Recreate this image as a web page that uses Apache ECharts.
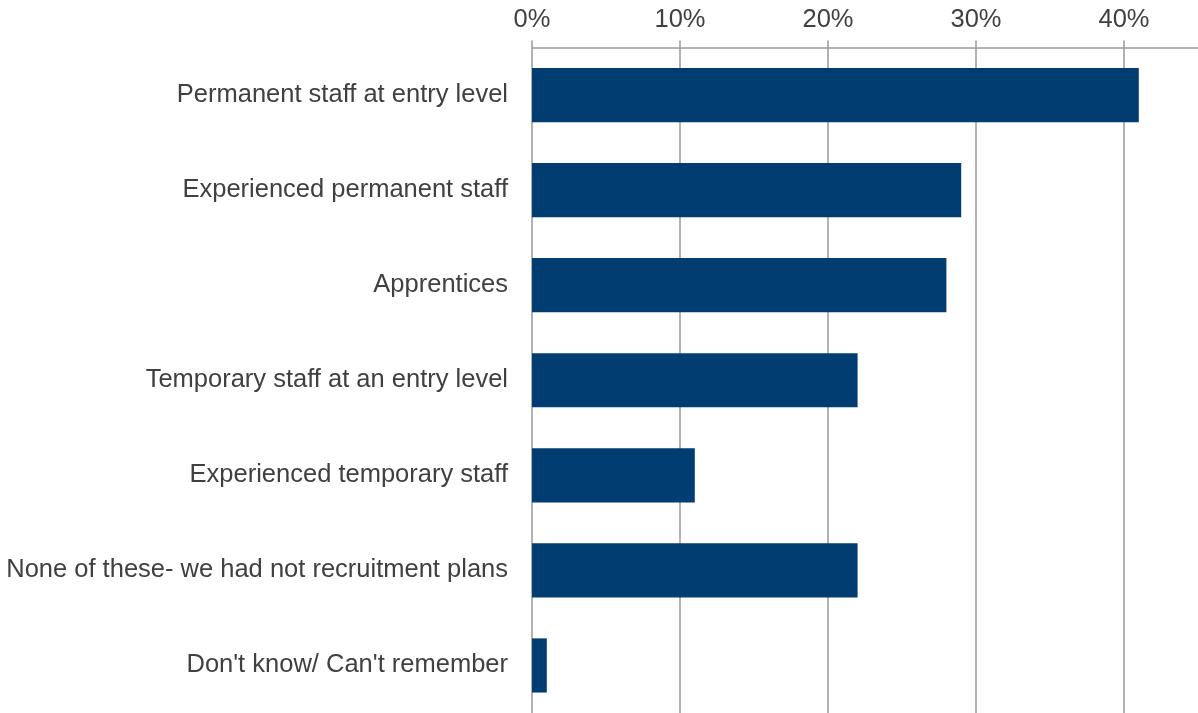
<!DOCTYPE html>
<html>
<head>
<meta charset="utf-8">
<script src="https://cdn.jsdelivr.net/npm/echarts@6/dist/echarts.min.js"></script>
<style>
  html, body { margin: 0; padding: 0; background: #ffffff; }
  #chart { width: 1198px; height: 713px; }
</style>
</head>
<body>
<div id="chart"></div>
<script>
// Recruitment types (top to bottom) and share of respondents, in percent
const categories = [
  "Permanent staff at entry level",
  "Experienced permanent staff",
  "Apprentices",
  "Temporary staff at an entry level",
  "Experienced temporary staff",
  "None of these- we had not recruitment plans",
  "Don't know/ Can't remember"
];
const shares = [41, 29, 28, 22, 11, 22, 1];
const tickValues = [0, 10, 20, 30, 40];

const chart = echarts.init(document.getElementById('chart'), null, { renderer: 'canvas' });
const textColor = '#404040';
const lineColor = '#999999';

chart.setOption({
  animation: false,
  grid: { left: 532, right: 0, top: 47.5, bottom: 0, containLabel: false },
  xAxis: {
    type: 'value',
    position: 'top',
    min: 0,
    max: 45,
    interval: 10,
    axisLine: { show: true, lineStyle: { color: lineColor, width: 1.5 } },
    axisTick: { show: true, length: 7, lineStyle: { color: lineColor, width: 1.5 } },
    axisLabel: {
      color: textColor,
      fontFamily: 'Liberation Sans, Arial, sans-serif',
      fontSize: 25.5,
      margin: 15,
      showMaxLabel: false,
      formatter: v => (tickValues.indexOf(v) >= 0 ? v + '%' : '')
    },
    splitLine: { show: true, showMaxLine: false, lineStyle: { color: lineColor, width: 1.5 } }
  },
  yAxis: {
    type: 'category',
    data: categories,
    inverse: true,
    axisLine: { show: false },
    axisTick: { show: false },
    axisLabel: {
      color: textColor,
      fontFamily: 'Liberation Sans, Arial, sans-serif',
      fontSize: 25.5,
      margin: 24,
      padding: [4, 0, 0, 0]
    }
  },
  series: [{
    type: 'bar',
    data: shares,
    barWidth: '57%',
    itemStyle: { color: '#023D72' }
  }]
});
</script>
</body>
</html>
